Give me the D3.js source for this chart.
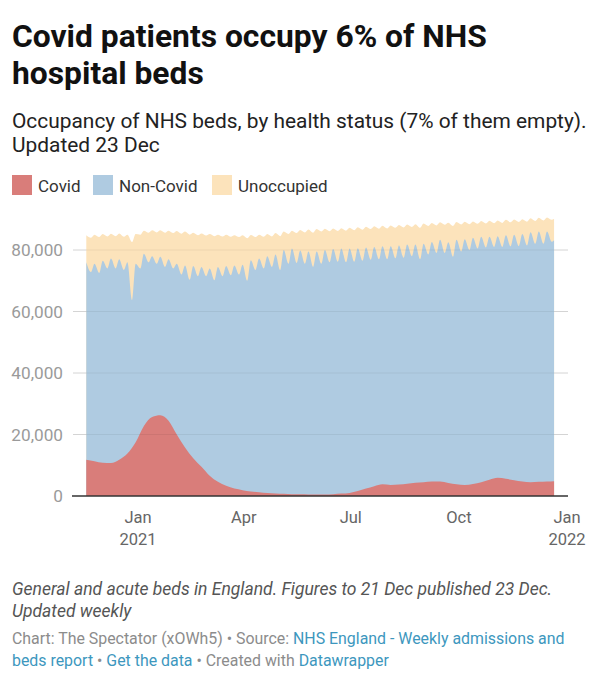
<!DOCTYPE html>
<html>
<head>
<meta charset="utf-8">
<title>Covid patients occupy 6% of NHS hospital beds</title>
<script src="https://cdn.jsdelivr.net/npm/d3@7"></script>
<style>
  body { margin: 0; background: #fff; font-family: Roboto, "Noto Sans", sans-serif; }
  svg text { font-family: Roboto, "Noto Sans", sans-serif; }
</style>
</head>
<body>
<div id="chart"></div>
<script>
// Weekly readings, one pair per week: midweek (Wednesday) high and Sunday low.
// First Wednesday is 18 Nov 2020, last Sunday is 19 Dec 2021. Values in thousands.
const firstWednesday = "2020-11-18";
const lastDate = "2021-12-21";

// top of the blue area = all occupied beds (Covid + non-Covid)
const occupiedHigh = [76.0, 75.5, 76.5, 77.2, 77.0, 76.0, 75.5, 78.8, 78.0, 77.8,
  77.0, 75.5, 75.0, 74.8, 74.5, 74.0, 74.5, 74.8, 75.0, 75.2,
  76.7, 77.2, 78.0, 78.5, 80.0, 80.5, 79.8, 79.5, 79.5, 80.0,
  80.3, 80.5, 80.5, 80.6, 80.8, 81.0, 81.2, 81.2, 81.5, 81.8,
  81.8, 82.0, 82.6, 83.3, 82.5, 83.3, 83.5, 84.0, 84.3, 84.3,
  84.5, 84.8, 85.0, 85.2, 85.8, 86.0, 86.0];
const occupiedLow = [72.8, 72.5, 74.0, 74.0, 73.5, 63.7, 74.0, 76.0, 75.5, 74.5,
  74.0, 72.0, 70.3, 71.5, 71.5, 70.2, 71.5, 71.8, 72.0, 70.0,
  73.5, 74.0, 74.5, 73.5, 75.5, 75.8, 75.5, 74.5, 75.5, 76.0,
  76.2, 76.0, 76.2, 76.5, 76.8, 77.0, 77.0, 77.3, 77.5, 78.0,
  77.0, 78.5, 79.0, 79.0, 77.8, 79.5, 80.0, 80.5, 80.8, 81.0,
  81.0, 81.2, 81.3, 81.5, 82.0, 82.0, 82.7];
const occupiedLast = 83.2;

// top of the orange area = all beds
const bedsHigh = [84.8, 85.0, 85.2, 85.3, 85.4, 85.0, 85.2, 86.3, 86.4, 86.4,
  86.3, 86.2, 86.0, 85.6, 85.4, 85.2, 85.0, 85.0, 84.8, 84.8,
  84.9, 85.0, 85.2, 85.5, 86.0, 86.3, 86.5, 86.7, 86.8, 86.9,
  87.0, 87.1, 87.2, 87.4, 87.6, 87.7, 87.9, 88.0, 88.1, 88.3,
  88.4, 88.6, 88.8, 89.0, 88.9, 89.1, 89.2, 89.3, 89.4, 89.5,
  89.6, 89.8, 89.9, 90.0, 90.3, 90.5, 90.6];
const bedsLow = [84.0, 84.2, 84.4, 84.5, 84.3, 82.6, 85.0, 85.6, 85.7, 85.6,
  85.5, 85.3, 85.0, 84.8, 84.7, 84.5, 84.4, 84.3, 84.2, 83.8,
  84.2, 84.3, 84.4, 84.5, 85.2, 85.5, 85.7, 85.6, 86.0, 86.1,
  86.2, 86.3, 86.4, 86.6, 86.8, 86.9, 87.0, 87.2, 87.3, 87.5,
  87.2, 87.8, 88.0, 88.2, 87.8, 88.3, 88.4, 88.5, 88.6, 88.7,
  88.8, 89.0, 89.1, 89.2, 89.4, 89.6, 89.8];
const bedsLast = 90.2;

// Covid patients, read on each Wednesday
const covidWeekly = [11.8, 11.3, 10.8, 10.7, 11.8, 13.8, 17.5, 22.8, 25.7, 26.3,
  24.5, 20.0, 15.8, 12.3, 9.5, 6.6, 4.6, 3.3, 2.4, 1.9,
  1.5, 1.2, 0.95, 0.8, 0.7, 0.6, 0.55, 0.5, 0.45, 0.5,
  0.6, 0.8, 1.0, 1.6, 2.4, 3.2, 3.8, 3.6, 3.7, 4.0,
  4.3, 4.5, 4.7, 4.7, 4.2, 3.8, 3.6, 3.9, 4.5, 5.3,
  5.9, 5.6, 5.1, 4.7, 4.5, 4.6, 4.7];
const covidLast = 4.8;

const seriesNames = ["Covid", "Non-Covid", "Unoccupied"];
const seriesColors = ["#d97d7a", "#afcbe1", "#fce3bb"];
const yTicks = [0, 20000, 40000, 60000, 80000];
const xTicks = [
  { date: "2021-01-01", lines: ["Jan", "2021"] },
  { date: "2021-04-01", lines: ["Apr"] },
  { date: "2021-07-01", lines: ["Jul"] },
  { date: "2021-10-01", lines: ["Oct"] },
  { date: "2022-01-01", lines: ["Jan", "2022"] }
];

const parse = d3.utcParse("%Y-%m-%d");
const addDays = (d, n) => d3.utcDay.offset(d, n);

function weeklyPoints(high, low, last) {
  const pts = [];
  high.forEach((v, k) => {
    const wed = addDays(parse(firstWednesday), 7 * k);
    pts.push({ date: wed, value: v * 1000 });
    pts.push({ date: addDays(wed, 4), value: low[k] * 1000 });
  });
  pts.push({ date: parse(lastDate), value: last * 1000 });
  return pts;
}

const occupied = weeklyPoints(occupiedHigh, occupiedLow, occupiedLast);
const beds = weeklyPoints(bedsHigh, bedsLow, bedsLast);
const covid = covidWeekly.map((v, k) => ({ date: addDays(parse(firstWednesday), 7 * k), value: v * 1000 }));
covid.push({ date: parse(lastDate), value: covidLast * 1000 });

const width = 601, height = 680;
const svg = d3.select("#chart").append("svg")
  .attr("width", width).attr("height", height);

// header
svg.append("text").attr("x", 12).attr("y", 47)
  .attr("font-size", 31.8).attr("font-weight", 700).attr("fill", "#111")
  .text("Covid patients occupy 6% of NHS");
svg.append("text").attr("x", 12).attr("y", 84)
  .attr("font-size", 31.8).attr("font-weight", 700).attr("fill", "#111")
  .text("hospital beds");
svg.append("text").attr("x", 12).attr("y", 128)
  .attr("font-size", 20.9).attr("fill", "#222")
  .text("Occupancy of NHS beds, by health status (7% of them empty).");
svg.append("text").attr("x", 12).attr("y", 152)
  .attr("font-size", 20.9).attr("fill", "#222")
  .text("Updated 23 Dec");

// legend
const legendX = [12, 93, 212];
const legend = svg.append("g");
seriesNames.forEach((name, i) => {
  legend.append("rect").attr("x", legendX[i]).attr("y", 175)
    .attr("width", 20).attr("height", 20).attr("fill", seriesColors[i]);
  legend.append("text").attr("x", legendX[i] + 26).attr("y", 192)
    .attr("font-size", 17).attr("fill", "#333").text(name);
});

// scales
const x = d3.scaleUtc()
  .domain([parse("2021-01-01"), parse("2022-01-01")])
  .range([138, 567]);
const y = d3.scaleLinear().domain([0, 80000]).range([496, 250]);

// grid + y labels
const grid = svg.append("g");
yTicks.forEach(t => {
  if (t > 0) {
    grid.append("line").attr("x1", 73).attr("x2", 568)
      .attr("y1", y(t)).attr("y2", y(t))
      .attr("stroke", "#e2e2e2").attr("stroke-width", 1);
  }
  grid.append("text").attr("x", 63).attr("y", y(t) + 6)
    .attr("text-anchor", "end").attr("font-size", 17.2).attr("fill", "#9a9a9a")
    .text(d3.format(",")(t));
});

// areas, painted back to front: all beds, occupied, covid
const area = d3.area()
  .x(d => x(d.date))
  .y0(y(0))
  .y1(d => y(d.value))
  .curve(d3.curveMonotoneX);

svg.append("path").datum(beds).attr("d", area).attr("fill", seriesColors[2]);
svg.append("path").datum(occupied).attr("d", area).attr("fill", seriesColors[1]);
svg.append("path").datum(covid).attr("d", area).attr("fill", seriesColors[0]);

// redraw gridlines faintly over the areas
yTicks.filter(t => t > 0).forEach(t => {
  svg.append("line").attr("x1", 73).attr("x2", 568)
    .attr("y1", y(t)).attr("y2", y(t))
    .attr("stroke", "#000").attr("stroke-opacity", 0.06);
});

// baseline
svg.append("line").attr("x1", 72).attr("x2", 568)
  .attr("y1", y(0)).attr("y2", y(0))
  .attr("stroke", "#333").attr("stroke-width", 1.5);

// x labels
xTicks.forEach(t => {
  t.lines.forEach((s, j) => {
    svg.append("text").attr("x", x(parse(t.date))).attr("y", 523 + j * 22)
      .attr("text-anchor", "middle").attr("font-size", 16.5).attr("fill", "#666")
      .text(s);
  });
});

// notes
svg.append("text").attr("x", 12).attr("y", 595)
  .attr("font-size", 17.5).attr("font-style", "italic").attr("fill", "#555")
  .text("General and acute beds in England. Figures to 21 Dec published 23 Dec.");
svg.append("text").attr("x", 12).attr("y", 617)
  .attr("font-size", 17.5).attr("font-style", "italic").attr("fill", "#555")
  .text("Updated weekly");

const grey = "#8c8c8c", link = "#3d97be";
const credit1 = svg.append("text").attr("x", 12).attr("y", 644).attr("font-size", 15.9);
credit1.append("tspan").attr("fill", grey).text("Chart: The Spectator (xOWh5) • Source: ");
credit1.append("tspan").attr("fill", link).text("NHS England - Weekly admissions and");
const credit2 = svg.append("text").attr("x", 12).attr("y", 666).attr("font-size", 15.9);
credit2.append("tspan").attr("fill", link).text("beds report");
credit2.append("tspan").attr("fill", grey).text(" • ");
credit2.append("tspan").attr("fill", link).text("Get the data");
credit2.append("tspan").attr("fill", grey).text(" • Created with ");
credit2.append("tspan").attr("fill", link).text("Datawrapper");
</script>
</body>
</html>
